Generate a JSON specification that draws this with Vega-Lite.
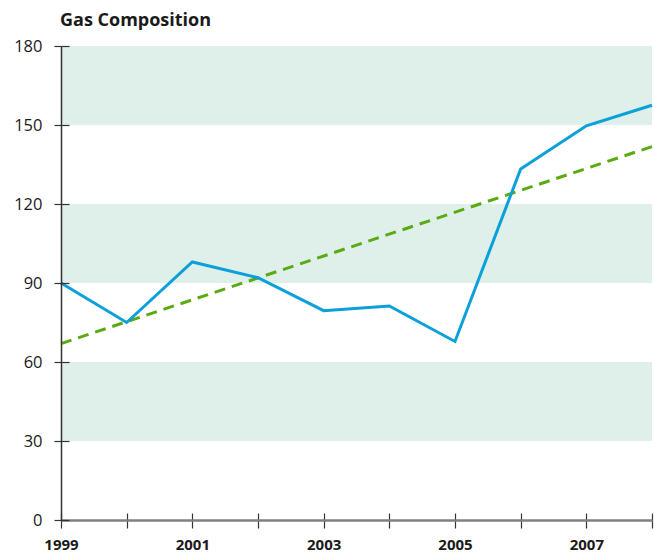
{
  "$schema": "https://vega.github.io/schema/vega-lite/v6.json",
  "width": 591,
  "height": 474,
  "autosize": "none",
  "padding": {"left": 61, "top": 46, "right": 2, "bottom": 33},
  "background": "white",
  "title": {
    "text": "Gas Composition",
    "anchor": "start",
    "frame": "group",
    "font": "Open Sans",
    "fontSize": 18,
    "fontWeight": "bold",
    "color": "#1a1a1a",
    "offset": 8,
    "dx": -1
  },
  "config": {"view": {"stroke": null}},
  "resolve": {"axis": {"x": "independent", "y": "independent"}},
  "datasets": {
    "bands": [
      {"lo": 30, "hi": 60},
      {"lo": 90, "hi": 120},
      {"lo": 150, "hi": 180}
    ],
    "series": [
      {"year": 1999, "value": 90},
      {"year": 2000, "value": 75},
      {"year": 2001, "value": 98},
      {"year": 2002, "value": 92},
      {"year": 2003, "value": 79.5},
      {"year": 2004, "value": 81.3},
      {"year": 2005, "value": 67.8},
      {"year": 2006, "value": 133.3},
      {"year": 2007, "value": 149.7},
      {"year": 2008, "value": 157.5}
    ],
    "trend": [
      {"year": 1999, "value": 67},
      {"year": 2008, "value": 141.8}
    ]
  },
  "layer": [
    {
      "data": {"name": "bands"},
      "mark": {"type": "rect", "color": "#dff0eb"},
      "encoding": {
        "x": {"datum": 1999, "type": "quantitative", "scale": {"domain": [1999, 2008], "nice": false, "zero": false}, "axis": null},
        "x2": {"datum": 2008},
        "y": {"field": "lo", "type": "quantitative", "scale": {"domain": [0, 180], "nice": false}, "axis": null},
        "y2": {"field": "hi"}
      }
    },
    {
      "data": {"name": "trend"},
      "mark": {"type": "line", "color": "#5aaa12", "strokeWidth": 3, "strokeDash": [11, 7]},
      "encoding": {
        "x": {
          "field": "year",
          "type": "quantitative",
          "axis": {
            "orient": "bottom",
            "title": null,
            "values": [1999, 2000, 2001, 2002, 2003, 2004, 2005, 2006, 2007, 2008],
            "labels": false,
            "domain": false,
            "grid": false,
            "offset": -7,
            "tickSize": 7,
            "tickColor": "#333",
            "tickWidth": 1.2,
            "zindex": 1
          }
        },
        "y": {
          "field": "value",
          "type": "quantitative",
          "axis": {
            "orient": "left",
            "title": null,
            "values": [0, 30, 60, 90, 120, 150, 180],
            "labels": false,
            "domain": false,
            "grid": false,
            "offset": -8,
            "tickSize": 8,
            "tickColor": "#333",
            "tickWidth": 1.2,
            "zindex": 1
          }
        }
      }
    },
    {
      "data": {"name": "series"},
      "mark": {"type": "line", "color": "#0aa0da", "strokeWidth": 3},
      "encoding": {
        "x": {
          "field": "year",
          "type": "quantitative",
          "axis": {
            "orient": "bottom",
            "title": null,
            "values": [1999, 2000, 2001, 2002, 2003, 2004, 2005, 2006, 2007, 2008],
            "labelExpr": "datum.value % 2 == 1 ? datum.value : ''",
            "grid": false,
            "domainColor": "#808080",
            "domainWidth": 2.5,
            "tickColor": "#333",
            "tickWidth": 1.2,
            "tickSize": 8,
            "labelPadding": 9,
            "labelFont": "Open Sans",
            "labelFontSize": 15,
            "labelFontWeight": "bold",
            "labelColor": "#1a1a1a",
            "labelFlush": false,
            "zindex": 1
          }
        },
        "y": {
          "field": "value",
          "type": "quantitative",
          "axis": {
            "orient": "left",
            "title": null,
            "values": [0, 30, 60, 90, 120, 150, 180],
            "grid": false,
            "domainColor": "#333",
            "domainWidth": 1.5,
            "tickColor": "#333",
            "tickWidth": 1.2,
            "tickSize": 7,
            "labelPadding": 12,
            "labelFont": "Open Sans",
            "labelFontSize": 16.5,
            "labelFontWeight": "normal",
            "labelColor": "#1a1a1a",
            "labelFlush": false,
            "zindex": 1
          }
        }
      }
    }
  ]
}
